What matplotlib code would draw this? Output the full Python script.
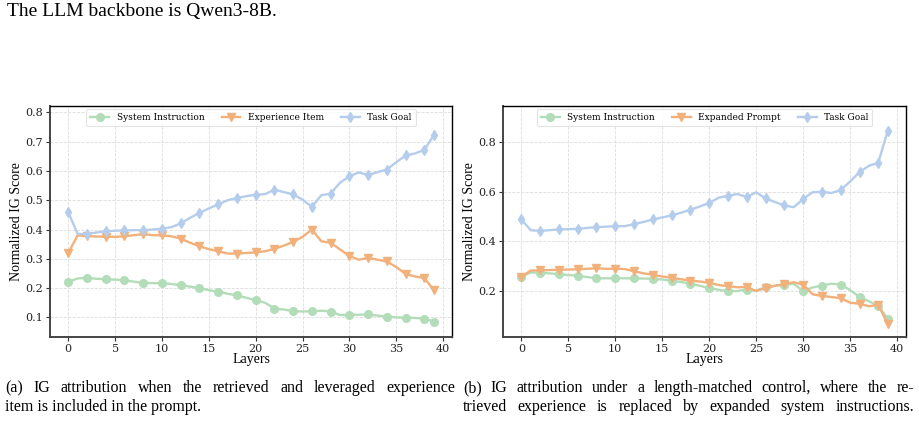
import numpy as np
import matplotlib
matplotlib.use('Agg')
import matplotlib.pyplot as plt

layers = np.arange(40)

# (a) experience item in prompt
sys_a = [0.221, 0.233, 0.235, 0.232, 0.230, 0.229, 0.227, 0.222, 0.218, 0.217,
         0.217, 0.214, 0.210, 0.205, 0.200, 0.193, 0.187, 0.181, 0.175, 0.167,
         0.159, 0.150, 0.130, 0.127, 0.121, 0.120, 0.121, 0.123, 0.120, 0.108,
         0.109, 0.109, 0.110, 0.106, 0.103, 0.100, 0.099, 0.098, 0.096, 0.085]
exp_a = [0.320, 0.380, 0.378, 0.376, 0.376, 0.375, 0.377, 0.381, 0.384, 0.381,
         0.380, 0.377, 0.369, 0.355, 0.343, 0.333, 0.326, 0.318, 0.318, 0.320,
         0.322, 0.326, 0.334, 0.345, 0.358, 0.375, 0.400, 0.360, 0.355, 0.332,
         0.310, 0.297, 0.303, 0.297, 0.291, 0.272, 0.248, 0.240, 0.234, 0.194]
goal_a = [0.459, 0.385, 0.385, 0.390, 0.394, 0.396, 0.397, 0.398, 0.398, 0.400,
          0.403, 0.408, 0.421, 0.440, 0.457, 0.472, 0.486, 0.500, 0.508, 0.514,
          0.519, 0.521, 0.536, 0.528, 0.520, 0.502, 0.478, 0.517, 0.523, 0.560,
          0.582, 0.595, 0.586, 0.596, 0.605, 0.630, 0.653, 0.660, 0.672, 0.722]

# (b) length-matched control
sys_b = [0.258, 0.275, 0.274, 0.272, 0.268, 0.265, 0.262, 0.257, 0.252, 0.252,
         0.252, 0.252, 0.252, 0.251, 0.250, 0.247, 0.242, 0.237, 0.231, 0.222,
         0.212, 0.206, 0.200, 0.201, 0.207, 0.203, 0.216, 0.222, 0.227, 0.230,
         0.201, 0.215, 0.223, 0.230, 0.227, 0.205, 0.177, 0.160, 0.141, 0.090]
exp_b = [0.259, 0.283, 0.284, 0.285, 0.286, 0.287, 0.288, 0.290, 0.292, 0.290,
         0.290, 0.289, 0.280, 0.272, 0.266, 0.259, 0.254, 0.248, 0.243, 0.239,
         0.234, 0.225, 0.220, 0.216, 0.217, 0.201, 0.213, 0.222, 0.229, 0.236,
         0.227, 0.188, 0.181, 0.177, 0.172, 0.154, 0.150, 0.140, 0.145, 0.070]
goal_b = [0.488, 0.445, 0.442, 0.445, 0.448, 0.449, 0.450, 0.454, 0.457, 0.459,
          0.461, 0.461, 0.469, 0.478, 0.488, 0.496, 0.504, 0.515, 0.527, 0.540,
          0.554, 0.575, 0.583, 0.590, 0.578, 0.597, 0.572, 0.558, 0.544, 0.537,
          0.570, 0.597, 0.599, 0.594, 0.606, 0.640, 0.678, 0.703, 0.716, 0.843]

labels_a = ['System Instruction', 'Experience Item', 'Task Goal']
labels_b = ['System Instruction', 'Expanded Prompt', 'Task Goal']
colors = ['#b3dcb8', '#f2b07b', '#b5cdec']
markers = ['o', 'v', 'd']
marks = list(range(0, 40, 2)) + [39]

plt.rcParams['font.family'] = 'DejaVu Serif'

fig = plt.figure(figsize=(9.19, 4.22), dpi=100)
W, H = 919, 422
serif = 'Liberation Serif'


def draw(ax, series, labels, ylim, yticks):
    for vals, lab, c, m in zip(series, labels, colors, markers):
        ax.plot(layers, vals, color=c, marker=m, markevery=marks, markersize=5.5,
                linewidth=1.7, label=lab)
    ax.set_xlim(-1.95, 40.95)
    ax.set_ylim(*ylim)
    ax.set_xticks([0, 5, 10, 15, 20, 25, 30, 35, 40])
    ax.set_yticks(yticks)
    ax.tick_params(labelsize=8, length=3, width=0.8, pad=2,
                   colors='#333333', labelcolor='#222222')
    ax.grid(True, linestyle='--', color='#dddddd', linewidth=0.6)
    ax.set_axisbelow(True)
    for s in ['left', 'bottom']:
        ax.spines[s].set_linewidth(1.4)
        ax.spines[s].set_color('#444444')
    for s in ['top', 'right']:
        ax.spines[s].set_linewidth(1.0)
        ax.spines[s].set_color('black')
    ax.set_xlabel('Layers', family=serif, fontsize=10)
    ax.set_ylabel('Normalized IG Score', family=serif, fontsize=10)
    ax.xaxis.set_label_coords(0.5, -16.5 / 231)
    ax.xaxis.label.set_va('top')
    ax.yaxis.set_label_coords(-27 / 402, 0.5)
    leg = ax.legend(loc='upper center', ncol=3, fontsize=6.5, frameon=True,
                    borderaxespad=0.35, handlelength=2.1, columnspacing=1.9,
                    borderpad=0.45, edgecolor='#dddddd', fancybox=True)
    leg.get_frame().set_linewidth(0.8)


ax1 = fig.add_axes([50 / W, (H - 337) / H, 402 / W, 231 / H])
draw(ax1, [sys_a, exp_a, goal_a], labels_a, (0.033, 0.822),
     [0.1, 0.2, 0.3, 0.4, 0.5, 0.6, 0.7, 0.8])

ax2 = fig.add_axes([503 / W, (H - 337) / H, 403 / W, 231 / H])
draw(ax2, [sys_b, exp_b, goal_b], labels_b, (0.0165, 0.943),
     [0.2, 0.4, 0.6, 0.8])

renderer = fig.canvas.get_renderer()


def caption_line(text, x0, y, x1=None, size=11.5):
    # left aligned, or justified between x0 and x1 (pixels)
    if x1 is None:
        fig.text(x0 / W, 1 - y / H, text, family=serif, fontsize=size,
                 va='baseline', ha='left')
        return
    words = text.split(' ')
    objs = [fig.text(0, 1 - y / H, w, family=serif, fontsize=size,
                     va='baseline', ha='left') for w in words]
    widths = [o.get_window_extent(renderer).width for o in objs]
    gap = (x1 - x0 - sum(widths)) / (len(words) - 1)
    x = x0
    for o, wd in zip(objs, widths):
        o.set_x(x / W)
        x += wd + gap


fig.text(7 / W, 1 - 3 / H, 'The LLM backbone is Qwen3-8B.', family=serif,
         fontsize=14, va='top', ha='left')
caption_line('(a) IG attribution when the retrieved and leveraged experience', 5, 392, 455)
caption_line('item is included in the prompt.', 5, 411)
caption_line('(b) IG attribution under a length-matched control, where the re-', 463, 392, 914)
caption_line('trieved experience is replaced by expanded system instructions.', 463, 411, 914)

fig.savefig('out.png', dpi=100)
